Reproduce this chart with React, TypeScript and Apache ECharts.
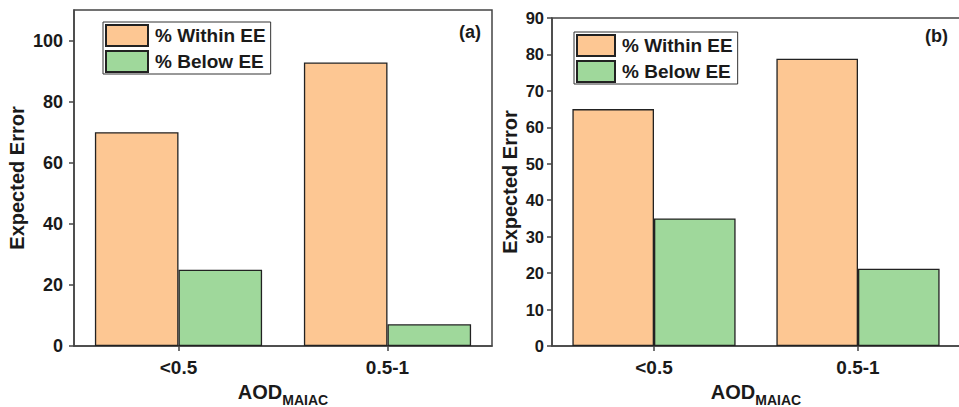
import React, { useEffect, useRef } from "react";
import * as echarts from "echarts";

const categories = ["<0.5", "0.5-1"];
const seriesNames = ["% Within EE", "% Below EE"];
const withinA = [70, 92.8];
const belowA = [25, 7.1];
const withinB = [65, 78.8];
const belowB = [35, 21.2];
const ticksA = [0, 20, 40, 60, 80, 100];
const ticksB = [0, 10, 20, 30, 40, 50, 60, 70, 80, 90];
const panelLabels = ["(a)", "(b)"];
const yName = "Expected Error";

const FONT = "'Liberation Sans', Arial, sans-serif";
const ORANGE = "#FDC793";
const GREEN = "#9FD89B";
const INK = "#1a1a1a";
const AXIS = "#444";

export default function App() {
  const ref = useRef<HTMLDivElement>(null);
  useEffect(() => {
    document.body.style.margin = "0";
    const chart = echarts.init(ref.current!, null, { renderer: "svg" });
    const yAxisBase = (min: number, max: number, interval: number, ticks: number[], gap: number, margin: number, fs: number) => ({
      type: "value",
      min,
      max,
      interval,
      name: yName,
      nameLocation: "middle",
      nameGap: gap,
      nameTextStyle: { fontFamily: FONT, fontWeight: "bold", fontSize: 20, color: INK },
      axisLine: { show: true, lineStyle: { color: AXIS, width: 1.5 } },
      axisTick: { show: true, inside: false, length: 5, customValues: ticks, lineStyle: { color: AXIS, width: 1.5 } },
      axisLabel: { customValues: ticks, margin, fontFamily: FONT, fontWeight: "bold", fontSize: fs, color: INK },
      splitLine: { show: false },
    });
    const xAxisBase = (gap: number) => ({
      type: "category",
      data: categories,
      name: "{a|AOD}{b|MAIAC}",
      nameLocation: "middle",
      nameGap: gap,
      nameTextStyle: {
        rich: {
          a: { fontFamily: FONT, fontWeight: "bold", fontSize: 20, color: INK, verticalAlign: "bottom" },
          b: { fontFamily: FONT, fontWeight: "bold", fontSize: 14, color: INK, verticalAlign: "bottom", padding: [0, 0, -5, 0] },
        },
      },
      axisLine: { show: true, lineStyle: { color: AXIS, width: 1.5 } },
      axisTick: { show: true, alignWithLabel: true, inside: false, length: 5, lineStyle: { color: AXIS, width: 1.5 } },
      axisLabel: { margin: 12, fontFamily: FONT, fontWeight: "bold", fontSize: 19, color: INK },
      splitLine: { show: false },
    });
    const barStyle = (color: string) => ({ color, borderColor: "#222", borderWidth: 1.3 });
    const legendBase = (left: number, top: number, w: number) => ({
      left,
      top,
      orient: "vertical",
      data: seriesNames,
      itemWidth: w,
      itemHeight: 21,
      itemGap: 3,
      icon: "rect",
      padding: [2, 5, 1, 2],
      borderColor: "#333",
      borderWidth: 1,
      backgroundColor: "#fff",
      textStyle: { fontFamily: FONT, fontWeight: "bold", fontSize: 19, color: INK, padding: [0, 0, 0, 2] },
    });
    chart.setOption({
      animation: false,
      backgroundColor: "#fff",
      grid: [
        { left: 74, top: 10, width: 418, height: 336, outerBoundsMode: "none", containLabel: false, show: true, borderColor: AXIS, borderWidth: 1.5, backgroundColor: "transparent" },
        { left: 552, top: 18, width: 408, height: 328, outerBoundsMode: "none", containLabel: false, show: true, borderColor: AXIS, borderWidth: 1.5, backgroundColor: "transparent" },
      ],
      xAxis: [
        { ...xAxisBase(30), gridIndex: 0 },
        { ...xAxisBase(34), gridIndex: 1 },
      ],
      yAxis: [
        { ...yAxisBase(0, 110, 20, ticksA, 47, 11, 18), gridIndex: 0 },
        { ...yAxisBase(0, 90, 10, ticksB, 32, 8, 16.5), gridIndex: 1 },
      ],
      legend: [legendBase(103, 22, 42), legendBase(574, 32, 38)],
      graphic: [
        { type: "text", left: 459, top: 23, style: { text: panelLabels[0], font: `bold 18px ${FONT}`, fill: INK } },
        { type: "text", left: 925, top: 27, style: { text: panelLabels[1], font: `bold 18px ${FONT}`, fill: INK } },
      ],
      series: [
        { type: "bar", name: seriesNames[0], xAxisIndex: 0, yAxisIndex: 0, data: withinA, itemStyle: barStyle(ORANGE), barGap: "0%", barCategoryGap: "20%" },
        { type: "bar", name: seriesNames[1], xAxisIndex: 0, yAxisIndex: 0, data: belowA, itemStyle: barStyle(GREEN), barGap: "0%", barCategoryGap: "20%" },
        { type: "bar", name: seriesNames[0], xAxisIndex: 1, yAxisIndex: 1, data: withinB, itemStyle: barStyle(ORANGE), barGap: "0%", barCategoryGap: "20%" },
        { type: "bar", name: seriesNames[1], xAxisIndex: 1, yAxisIndex: 1, data: belowB, itemStyle: barStyle(GREEN), barGap: "0%", barCategoryGap: "20%" },
      ],
    });
    return () => chart.dispose();
  }, []);
  return <div ref={ref} style={{ position: "fixed", left: 0, top: 0, width: 959, height: 407 }} />;
}
